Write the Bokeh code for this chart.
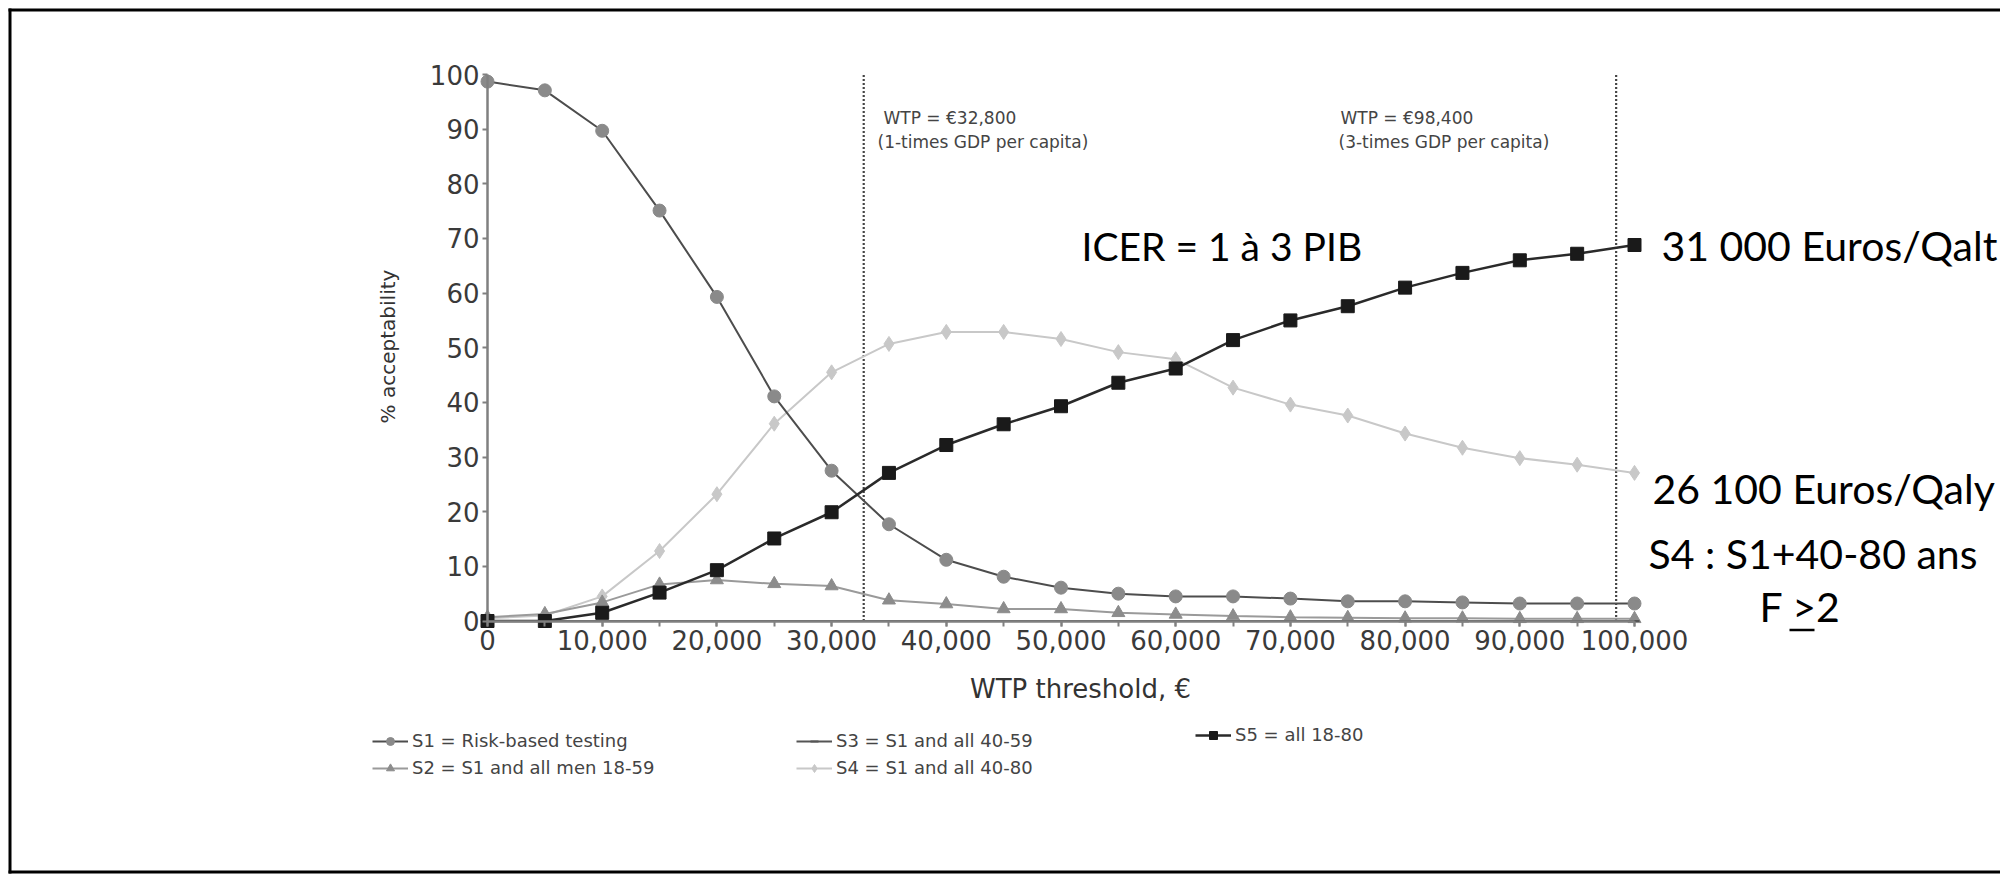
import math
from bokeh.plotting import figure
from bokeh.models import (Range1d, Label, Legend, LegendItem,
                          SingleIntervalTicker, NumeralTickFormatter)
from bokeh.embed import file_html
from bokeh.resources import INLINE

# ---------------- data ----------------
wtp = [0, 5000, 10000, 15000, 20000, 25000, 30000, 35000, 40000, 45000, 50000,
       55000, 60000, 65000, 70000, 75000, 80000, 85000, 90000, 95000, 100000]
s1 = [98.7, 97.1, 89.7, 75.1, 59.3, 41.1, 27.5, 17.7, 11.2, 8.1, 6.1,
      5.0, 4.5, 4.5, 4.1, 3.6, 3.6, 3.4, 3.2, 3.2, 3.2]
s2 = [0.7, 1.3, 3.4, 6.7, 7.5, 6.8, 6.4, 3.8, 3.1, 2.2, 2.2,
      1.5, 1.2, 0.9, 0.7, 0.6, 0.5, 0.5, 0.4, 0.4, 0.4]
s3 = [0, 0, 0, 0, 0, 0, 0, 0, 0, 0, 0,
      0, 0, 0, 0, 0, 0, 0, 0, 0, 0]
s4 = [0.5, 1.0, 4.5, 12.8, 23.2, 36.1, 45.5, 50.7, 52.9, 52.9, 51.6,
      49.2, 47.9, 42.7, 39.6, 37.6, 34.3, 31.7, 29.8, 28.6, 27.1]
s5 = [0, 0, 1.5, 5.2, 9.3, 15.1, 19.9, 27.1, 32.2, 36.0, 39.3,
      43.6, 46.2, 51.4, 55.0, 57.6, 61.0, 63.7, 66.0, 67.2, 68.8]
labels = ["S1 = Risk-based testing", "S2 = S1 and all men 18-59",
          "S3 = S1 and all 40-59", "S4 = S1 and all 40-80", "S5 = all 18-80"]
thresholds = [32800, 98400]
x_ticks_step = 10000
y_ticks_step = 10

# ---------------- layout geometry (page pixels) ----------------
W, H = 2000, 878
X0P, XS = 487.0, 0.01147     # page x of WTP=0, px per euro
Y0P, YS = 620.5, 5.465       # page y of 0 %, px per %


def px(page_x):
    return (page_x - X0P) / XS


def py(page_y):
    return (Y0P - page_y) / YS


p = figure(width=W, height=H, output_backend="svg", toolbar_location=None,
           x_range=Range1d(px(0), px(W)), y_range=Range1d(py(H), py(0)),
           min_border=0)
p.outline_line_color = None
p.grid.visible = False
p.background_fill_color = "white"
p.border_fill_color = "white"

AX = "#808080"
FONT = "DejaVu Sans"

xa = p.xaxis[0]
xa.fixed_location = 0
xa.bounds = (0, 100000)
xa.ticker = SingleIntervalTicker(interval=x_ticks_step, num_minor_ticks=2)
xa.formatter = NumeralTickFormatter(format="0,0")
xa.axis_line_color = AX
xa.axis_line_width = 2.5
xa.major_tick_line_color = AX
xa.minor_tick_line_color = AX
xa.major_tick_line_width = 2
xa.minor_tick_line_width = 2
xa.major_tick_in = 0
xa.minor_tick_in = 0
xa.major_tick_out = 5
xa.minor_tick_out = 5
xa.major_label_text_font = FONT
xa.major_label_text_font_size = "26px"
xa.major_label_text_color = "#3a3a3a"
xa.major_label_standoff = 4

ya = p.yaxis[0]
ya.fixed_location = 0
ya.bounds = (0, 100)
ya.ticker = SingleIntervalTicker(interval=y_ticks_step, num_minor_ticks=0)
ya.axis_line_color = AX
ya.axis_line_width = 2.5
ya.major_tick_line_color = AX
ya.major_tick_line_width = 2
ya.major_tick_in = 0
ya.major_tick_out = 5
ya.minor_tick_line_color = None
ya.major_label_text_font = FONT
ya.major_label_text_font_size = "26px"
ya.major_label_text_color = "#3a3a3a"
ya.major_label_standoff = 3

# slide frame (left, top and bottom edges of the pasted picture)
p.segment(x0=[px(9.5), px(8), px(8)], x1=[px(9.5), px(W), px(W)],
          y0=[py(8), py(9.5), py(871.5)], y1=[py(873), py(9.5), py(871.5)],
          line_color="#000000", line_width=3)

# threshold lines
p.segment(x0=thresholds, x1=thresholds, y0=[0, 0], y1=[100, 100],
          line_color="#444444", line_width=2.2, line_dash="2 2")

# series
r4l = p.line(wtp, s4, line_color="#c8c8c8", line_width=2)
r4m = p.scatter(wtp, s4, marker="diamond", size=15, fill_color="#c8c8c8",
                line_color="#c8c8c8")
r2l = p.line(wtp, s2, line_color="#9a9a9a", line_width=2)
r2m = p.scatter(wtp, s2, marker="triangle", size=13, fill_color="#8c8c8c",
                line_color="#8c8c8c")
r3l = p.line(wtp, s3, line_color="#555555", line_width=2)
r3m = p.scatter(wtp, s3, marker="dash", size=10, line_color="#555555",
                line_width=2)
r1l = p.line(wtp, s1, line_color="#4d4d4d", line_width=2)
r1m = p.scatter(wtp, s1, marker="circle", size=13, fill_color="#8a8a8a",
                line_color="#8a8a8a")
r5l = p.line(wtp, s5, line_color="#2a2a2a", line_width=2.5)
r5m = p.scatter(wtp, s5, marker="square", size=13, fill_color="#1a1a1a",
                line_color="#1a1a1a")


def make_legend(items, left_page, bottom_page):
    lg = Legend(items=items, location=(left_page, H - bottom_page),
                orientation="vertical")
    lg.background_fill_alpha = 0
    lg.border_line_color = None
    lg.padding = 0
    lg.margin = 0
    lg.spacing = 6
    lg.glyph_width = 36
    lg.glyph_height = 20
    lg.label_height = 20
    lg.label_standoff = 4
    lg.label_text_font = FONT
    lg.label_text_font_size = "18px"
    lg.label_text_color = "#444444"
    p.add_layout(lg)


make_legend([LegendItem(label=labels[0], renderers=[r1l, r1m]),
             LegendItem(label=labels[1], renderers=[r2l, r2m])], 372, 778)
make_legend([LegendItem(label=labels[2], renderers=[r3l, r3m]),
             LegendItem(label=labels[3], renderers=[r4l, r4m])], 796, 778)
make_legend([LegendItem(label=labels[4], renderers=[r5l, r5m])], 1195, 745)

# axis titles
p.add_layout(Label(x=px(1080), y=py(688), text="WTP threshold, €",
                   text_font=FONT, text_font_size="26px", text_color="#333333",
                   text_align="center", text_baseline="middle"))
p.add_layout(Label(x=px(387), y=py(346), text="% acceptability", angle=math.pi / 2,
                   text_font=FONT, text_font_size="20px", text_color="#333333",
                   text_align="center", text_baseline="middle"))

# small annotations of the original chart
for txt, xx, yy in [("WTP = €32,800", 883, 117), ("(1-times GDP per capita)", 877, 141),
                    ("WTP = €98,400", 1340, 117), ("(3-times GDP per capita)", 1338, 141)]:
    p.add_layout(Label(x=px(xx), y=py(yy), text=txt, text_font=FONT,
                       text_font_size="17px", text_color="#444444",
                       text_baseline="middle"))

# slide annotations
BIG = "Lato"
for txt, xx, yy, fs in [("ICER = 1 à 3 PIB", 1081, 245, "39px"),
                        ("31 000 Euros/Qalt", 1661, 245, "41px"),
                        ("26 100 Euros/Qaly", 1652, 488, "41px"),
                        ("S4 : S1+40-80 ans", 1648, 553, "41px"),
                        ("F >2", 1759, 606, "41px")]:
    p.add_layout(Label(x=px(xx), y=py(yy), text=txt, text_font=BIG,
                       text_font_size=fs, text_color="#000000",
                       text_baseline="middle"))
p.segment(x0=[px(1789)], x1=[px(1814)], y0=[py(629.5)], y1=[py(629.5)],
          line_color="#000000", line_width=2.5)

open("out.html", "w").write(file_html(p, INLINE))
